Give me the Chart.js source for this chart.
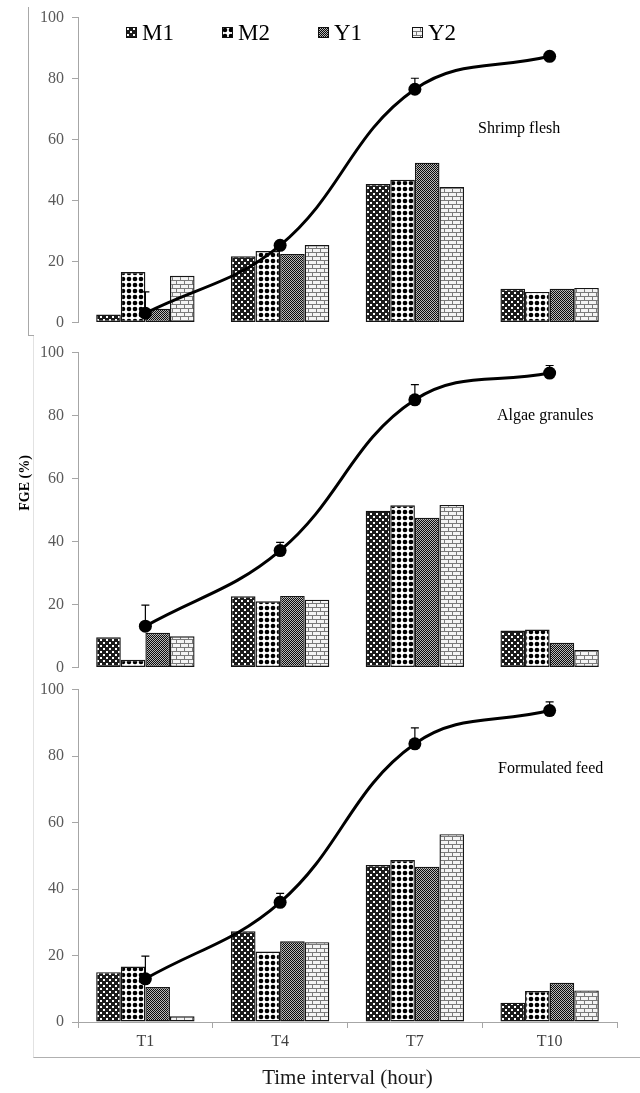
<!DOCTYPE html>
<html>
<head>
<meta charset="utf-8">
<script src="https://cdn.jsdelivr.net/npm/chart.js@4.4.1/dist/chart.umd.min.js"></script>
<style>
  html, body { margin: 0; padding: 0; background: #fff; }
  #wrap { position: relative; width: 640px; height: 1093px; overflow: hidden; font-family: "Liberation Serif", "Times New Roman", serif; }
  canvas.panel { position: absolute; left: 0; }
  .lg { position: absolute; top: 21px; font-size: 23px; line-height: 23px; color: #000; white-space: nowrap; }
  .sw { position: absolute; top: 27px; }
  .note { position: absolute; font-size: 16px; line-height: 16px; color: #000; white-space: nowrap; }
  #ytitle { position: absolute; left: 25px; top: 483px; width: 120px; height: 16px; margin-left: -60px; margin-top: -8px; text-align: center; font-size: 14px; line-height: 16px; font-weight: bold; color: #000; transform: rotate(-90deg); white-space: nowrap; }
  #frame1 { position: absolute; left: 28px; top: 7px; width: 5px; height: 328px; border-left: 1px solid #a8a8a8; border-bottom: 1px solid #a8a8a8; }
  #frame2 { position: absolute; left: 33px; top: 336px; width: 607px; height: 721px; border-left: 1px solid #e2e2e2; border-bottom: 1px solid #b0b0b0; }
</style>
</head>
<body>
<div id="wrap">
  <div id="frame1"></div>
  <div id="frame2"></div>
  <canvas id="c1" class="panel" width="640" height="340" style="top:0px"></canvas>
  <canvas id="c2" class="panel" width="640" height="350" style="top:335px"></canvas>
  <canvas id="c3" class="panel" width="640" height="421" style="top:672px"></canvas>
  <div id="legend"></div>
  <div id="ytitle"></div>
  <div class="note" id="n1" style="left:478px; top:120px;"></div>
  <div class="note" id="n2" style="left:497px; top:407px;"></div>
  <div class="note" id="n3" style="left:498px; top:760px;"></div>
</div>
<script>
// ---------- DATA ----------
const categories = ['T1', 'T4', 'T7', 'T10'];
const seriesNames = ['M1', 'M2', 'Y1', 'Y2'];
const yTicks = [0, 20, 40, 60, 80, 100];
const panelTitles = ['Shrimp flesh', 'Algae granules', 'Formulated feed'];
const yAxisTitle = 'FGE (%)';
const xAxisTitle = 'Time interval (hour)';

// Shrimp flesh
const shrimpM1 = [2.6, 21.7, 45.4, 11.0];
const shrimpM2 = [16.5, 23.4, 46.8, 10.0];
const shrimpY1 = [4.5, 22.4, 52.4, 11.0];
const shrimpY2 = [15.3, 25.4, 44.4, 11.3];
const shrimpFGE = [3.0, 25.3, 76.5, 87.3];
const shrimpErr = [7.0, 0, 3.6, 0];

// Algae granules
const algaeM1 = [9.6, 22.6, 49.8, 11.7];
const algaeM2 = [2.4, 21.0, 51.5, 12.0];
const algaeY1 = [11.0, 22.7, 47.5, 7.8];
const algaeY2 = [9.9, 21.5, 51.6, 5.5];
const algaeFGE = [13.1, 37.1, 85.0, 93.5];
const algaeErr = [6.7, 2.6, 4.8, 2.4];

// Formulated feed
const feedM1 = [15.0, 27.3, 47.2, 5.8];
const feedM2 = [16.7, 21.2, 48.7, 9.3];
const feedY1 = [10.5, 24.3, 46.7, 11.8];
const feedY2 = [1.7, 24.0, 56.5, 9.5];
const feedFGE = [13.0, 36.0, 83.7, 93.7];
const feedErr = [6.8, 2.7, 4.8, 2.6];

// ---------- PATTERNS ----------
function makeTile(kind) {
  const c = document.createElement('canvas');
  let ctx;
  if (kind === 'M1') {
    c.width = 6; c.height = 6; ctx = c.getContext('2d');
    ctx.fillStyle = '#1c1c1c'; ctx.fillRect(0, 0, 6, 6);
    ctx.fillStyle = '#ffffff'; ctx.fillRect(1, 1, 2, 2); ctx.fillRect(4, 4, 2, 2);
  } else if (kind === 'M2') {
    c.width = 6; c.height = 6; ctx = c.getContext('2d');
    ctx.fillStyle = '#ffffff'; ctx.fillRect(0, 0, 6, 6);
    ctx.fillStyle = '#000000'; ctx.beginPath(); ctx.arc(3, 3, 2.3, 0, Math.PI * 2); ctx.fill();
  } else if (kind === 'Y1') {
    c.width = 2; c.height = 2; ctx = c.getContext('2d');
    ctx.fillStyle = '#b8b8b8'; ctx.fillRect(0, 0, 2, 2);
    ctx.fillStyle = '#0a0a0a'; ctx.fillRect(0, 0, 1, 1); ctx.fillRect(1, 1, 1, 1);
  } else {
    c.width = 8; c.height = 8; ctx = c.getContext('2d');
    ctx.fillStyle = '#f4f4f4'; ctx.fillRect(0, 0, 8, 8);
    ctx.fillStyle = '#7a7a7a';
    ctx.fillRect(0, 0, 8, 1); ctx.fillRect(0, 4, 8, 1);
    ctx.fillRect(0, 0, 1, 4); ctx.fillRect(4, 4, 1, 4);
  }
  return c;
}
const tiles = seriesNames.map(makeTile);
const patterns = tiles.map(t => document.createElement('canvas').getContext('2d').createPattern(t, 'repeat'));

// ---------- LEGEND / NOTES (HTML text) ----------
const legendLeft = [126, 222, 318, 412];
const legendDiv = document.getElementById('legend');
seriesNames.forEach((name, i) => {
  const sw = document.createElement('canvas');
  sw.width = 11; sw.height = 11; sw.className = 'sw';
  sw.style.left = legendLeft[i] + 'px';
  const sctx = sw.getContext('2d');
  sctx.fillStyle = sctx.createPattern(tiles[i], 'repeat');
  sctx.fillRect(0, 0, 11, 11);
  sctx.strokeStyle = '#111'; sctx.lineWidth = 1; sctx.strokeRect(0.5, 0.5, 10, 10);
  legendDiv.appendChild(sw);
  const t = document.createElement('div');
  t.className = 'lg'; t.textContent = name;
  t.style.left = (legendLeft[i] + 16) + 'px';
  legendDiv.appendChild(t);
});
['n1', 'n2', 'n3'].forEach((id, i) => { document.getElementById(id).textContent = panelTitles[i]; });
document.getElementById('ytitle').textContent = yAxisTitle;

// ---------- ERROR BAR PLUGIN ----------
const errorBars = {
  id: 'errorBars',
  afterDatasetsDraw(chart, args, opts) {
    const errs = opts.errors || [];
    const lineIdx = chart.data.datasets.findIndex(d => d.type === 'line');
    if (lineIdx < 0) return;
    const meta = chart.getDatasetMeta(lineIdx);
    const ys = chart.scales.y;
    const ctx = chart.ctx;
    ctx.save();
    ctx.strokeStyle = '#000'; ctx.lineWidth = 1.2;
    meta.data.forEach((pt, i) => {
      const e = errs[i];
      if (!e) return;
      const v = chart.data.datasets[lineIdx].data[i];
      const y0 = ys.getPixelForValue(v);
      const y1 = ys.getPixelForValue(v + e);
      ctx.beginPath();
      ctx.moveTo(pt.x, y0); ctx.lineTo(pt.x, y1);
      ctx.moveTo(pt.x - 4, y1); ctx.lineTo(pt.x + 4, y1);
      ctx.stroke();
    });
    ctx.restore();
  }
};

const serif = '"Liberation Serif", "Times New Roman", serif';

function buildPanel(id, bars, line, errs, cfg) {
  const datasets = seriesNames.map((n, i) => ({
    type: 'bar', label: n, data: bars[i],
    backgroundColor: patterns[i], borderColor: '#151515', borderWidth: 1.4,
    borderSkipped: false, order: 1,
    categoryPercentage: 0.73, barPercentage: 1.0
  }));
  datasets.push({
    type: 'line', label: 'FGE', data: line,
    borderColor: '#000', borderWidth: 3, tension: 0.4, fill: false,
    pointRadius: 6.5, pointBackgroundColor: '#000', pointBorderColor: '#000', pointBorderWidth: 0,
    order: 0
  });
  const xScale = cfg.showX ? {
    display: true, offset: true,
    ticks: { color: '#404040', font: { family: serif, size: 16 }, padding: 4 },
    grid: { drawOnChartArea: false, drawTicks: true, tickLength: 6, color: '#a6a6a6', offset: true },
    border: { display: true, color: '#a6a6a6', width: 1 },
    title: { display: true, text: xAxisTitle, color: '#1a1a1a', font: { family: serif, size: 21 }, padding: { top: 0, bottom: 2 } },
    afterFit(s) { s.height = cfg.xHeight; }
  } : { display: false, offset: true };
  return new Chart(document.getElementById(id), {
    data: { labels: categories, datasets },
    options: {
      responsive: false, animation: false,
      layout: { padding: { top: cfg.padTop, bottom: cfg.padBottom, left: 0, right: 23 } },
      plugins: { legend: { display: false }, tooltip: { enabled: false }, errorBars: { errors: errs } },
      scales: {
        x: xScale,
        y: {
          min: 0, max: 100,
          afterBuildTicks(s) { s.ticks = yTicks.map(v => ({ value: v })); },
          ticks: { color: '#595959', font: { family: serif, size: 16 }, padding: 8 },
          grid: { drawOnChartArea: false, drawTicks: true, tickLength: 6, color: '#a6a6a6' },
          border: { display: true, color: '#a6a6a6', width: 1 },
          afterFit(s) { s.width = 78; }
        }
      }
    },
    plugins: [errorBars]
  });
}

buildPanel('c1', [shrimpM1, shrimpM2, shrimpY1, shrimpY2], shrimpFGE, shrimpErr, { padTop: 16, padBottom: 16, showX: false });
buildPanel('c2', [algaeM1, algaeM2, algaeY1, algaeY2], algaeFGE, algaeErr, { padTop: 16, padBottom: 15, showX: false });
buildPanel('c3', [feedM1, feedM2, feedY1, feedY2], feedFGE, feedErr, { padTop: 16, padBottom: 0, showX: true, xHeight: 71 });
</script>
</body>
</html>
